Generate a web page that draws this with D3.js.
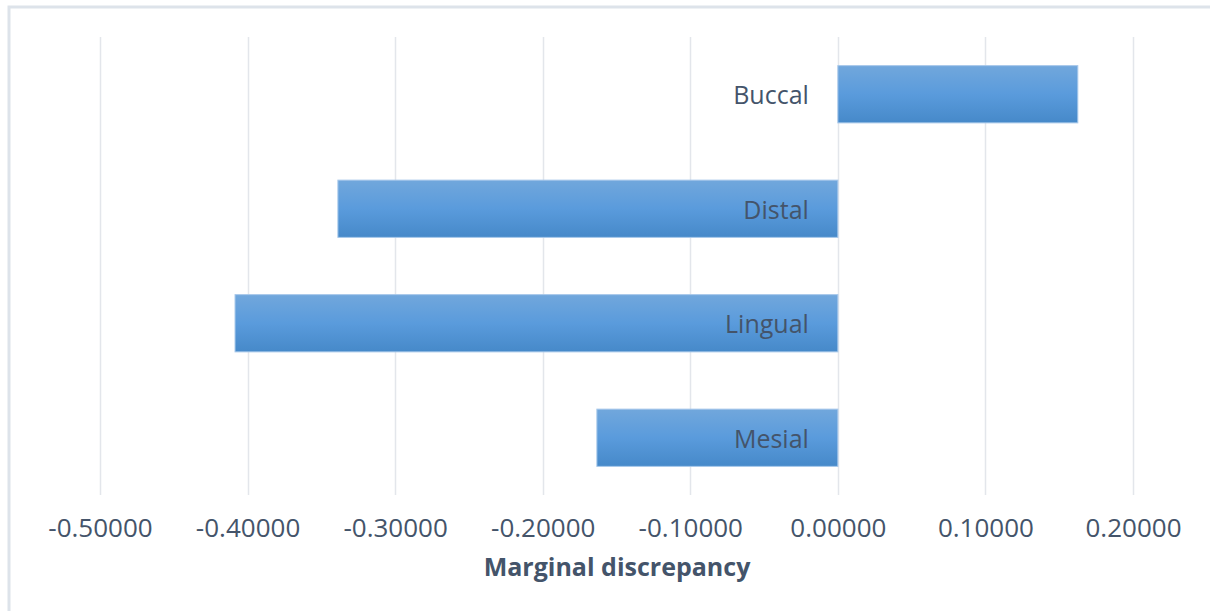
<!DOCTYPE html>
<html>
<head>
<meta charset="utf-8">
<script src="https://cdn.jsdelivr.net/npm/d3@7"></script>
<style>
  html, body { margin: 0; padding: 0; background: #fff; }
  svg { display: block; }
</style>
</head>
<body>
<svg id="chart" width="1210" height="611"></svg>
<script>
// Marginal discrepancy per surface
const categories = ["Buccal", "Distal", "Lingual", "Mesial"];
const values = [0.1626, -0.3388, -0.4085, -0.1633];
const tickValues = [-0.5, -0.4, -0.3, -0.2, -0.1, 0.0, 0.1, 0.2];
const axisTitle = "Marginal discrepancy";

const svg = d3.select("#chart");
const W = 1210, H = 611;
const plot = { left: 100, right: 1133, top: 37, bottom: 495 };
const FONT = "'Open Sans', 'Noto Sans', sans-serif";
const TEXT_COLOR = "#44546a";

const x = d3.scaleLinear().domain([-0.5, 0.2]).range([plot.left, plot.right]);
const y = d3.scaleBand().domain(categories).range([plot.top, plot.bottom]).paddingInner(0.5).paddingOuter(0.25);

// chart frame
svg.append("rect").attr("x", 9).attr("y", 7).attr("width", W).attr("height", H)
  .attr("fill", "#fff").attr("stroke", "#dde3ea").attr("stroke-width", 3);

// bar fill gradient
const defs = svg.append("defs");
const grad = defs.append("linearGradient").attr("id", "barGrad")
  .attr("x1", 0).attr("y1", 0).attr("x2", 0).attr("y2", 1);
grad.append("stop").attr("offset", "0%").attr("stop-color", "#71a7dc");
grad.append("stop").attr("offset", "50%").attr("stop-color", "#5a9bdc");
grad.append("stop").attr("offset", "100%").attr("stop-color", "#4689c9");

// vertical gridlines
svg.append("g").selectAll("line").data(tickValues).join("line")
  .attr("x1", d => Math.round(x(d)) + 0.5).attr("x2", d => Math.round(x(d)) + 0.5)
  .attr("y1", plot.top).attr("y2", plot.bottom)
  .attr("stroke", "#e3e6eb").attr("stroke-width", 1.5);

// bars
svg.append("g").selectAll("rect").data(categories).join("rect")
  .attr("x", (d, i) => Math.min(x(0), x(values[i])))
  .attr("width", (d, i) => Math.abs(x(values[i]) - x(0)))
  .attr("y", d => y(d))
  .attr("height", y.bandwidth())
  .attr("fill", "url(#barGrad)")
  .attr("stroke", "#a7c8ea").attr("stroke-width", 1);

// category labels, right-aligned left of the zero line
svg.append("g").selectAll("text").data(categories).join("text")
  .attr("x", x(0) - 29)
  .attr("y", d => y(d) + y.bandwidth() / 2 + 1)
  .attr("dy", "0.35em")
  .attr("text-anchor", "end")
  .attr("font-family", FONT)
  .attr("font-size", 25)
  .attr("fill", TEXT_COLOR)
  .text(d => d);

// x axis tick labels (plain hyphen for negatives)
const fmt = d3.format(".5f");
const axis = d3.axisBottom(x).tickValues(tickValues)
  .tickFormat(d => fmt(d).replace("\u2212", "-")).tickSize(0).tickPadding(0);
const gx = svg.append("g").attr("transform", `translate(0, ${plot.bottom + 33})`).call(axis);
gx.select(".domain").remove();
gx.selectAll("text")
  .attr("dy", "0.35em")
  .attr("font-family", FONT)
  .attr("font-size", 26)
  .attr("fill", TEXT_COLOR);

// axis title
svg.append("text")
  .attr("x", 617).attr("y", 567).attr("dy", "0.35em")
  .attr("text-anchor", "middle")
  .attr("font-family", FONT)
  .attr("font-weight", "bold")
  .attr("font-size", 25)
  .attr("fill", TEXT_COLOR)
  .text(axisTitle);
</script>
</body>
</html>
